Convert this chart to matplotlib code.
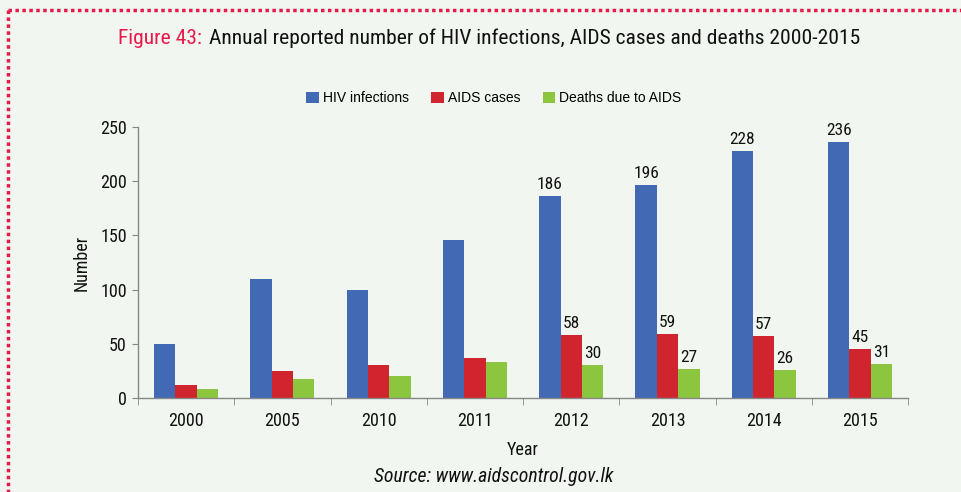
import matplotlib
matplotlib.use("Agg")
import matplotlib.pyplot as plt
from matplotlib.lines import Line2D
from matplotlib import font_manager
from matplotlib.font_manager import FontProperties
import numpy as np

years = ["2000", "2005", "2010", "2011", "2012", "2013", "2014", "2015"]
hiv = [50, 110, 100, 146, 186, 196, 228, 236]
aids = [12, 25, 30, 37, 58, 59, 57, 45]
deaths = [8, 18, 20, 33, 30, 27, 26, 31]
labelled = ["2012", "2013", "2014", "2015"]


def find_narrow(italic=False):
    cands = []
    for f in font_manager.fontManager.ttflist:
        nm = (f.name + " " + f.fname).lower()
        st = f.stretch
        isnarrow = ("condensed" in nm or "narrow" in nm or
                    (isinstance(st, str) and "condensed" in st) or
                    (isinstance(st, int) and st < 500))
        if not isnarrow:
            continue
        if "semi" in nm or "extra" in nm or "ultra" in nm:
            pr = 2
        else:
            pr = 0
        if f.weight not in (400, "normal", "regular", "book"):
            pr += 5
        it = f.style in ("italic", "oblique")
        if it != italic:
            pr += 10
        if "roboto" in nm:
            pr -= 0.5
        elif "liberation" in nm:
            pr -= 0.4
        cands.append((pr, f.fname))
    if cands:
        cands.sort()
        return FontProperties(fname=cands[0][1])
    return FontProperties(family="Liberation Sans", style="italic" if italic else "normal")


NF = find_narrow()
NFI = find_narrow(italic=True)


def fp(base, size):
    p = base.copy()
    p.set_size(size)
    return p


bg = "#f1f6f0"
fig = plt.figure(figsize=(9.62, 4.92), dpi=100, facecolor=bg)
ax = fig.add_axes([0.1435, 0.191, 0.8005, 0.551], facecolor=bg)

x = np.arange(len(years))
w = 0.222
cols = ["#4169b4", "#d0252f", "#8cc63f"]
b1 = ax.bar(x - w, hiv, w, color=cols[0], label="HIV infections")
b2 = ax.bar(x, aids, w, color=cols[1], label="AIDS cases")
b3 = ax.bar(x + w, deaths, w, color=cols[2], label="Deaths due to AIDS")

for bars in (b1, b2, b3):
    for i, r in enumerate(bars):
        if years[i] in labelled:
            ax.annotate(f"{r.get_height():.0f}", (r.get_x() + r.get_width() / 2, r.get_height()),
                        xytext=(0, 3), textcoords="offset points", ha="center", va="bottom",
                        fontproperties=fp(NF, 12.5), color="#111111")

ax.set_xlim(-0.5, len(years) - 0.5)
ax.set_ylim(0, 250)
ax.set_yticks(range(0, 251, 50))
ax.set_xticks(x)
ax.set_xticklabels(years)
ax.set_xticks(np.arange(-0.5, len(years), 1), minor=True)
ax.tick_params(axis="x", which="major", length=0, pad=10)
ax.tick_params(axis="x", which="minor", length=5, color="#888888")
ax.tick_params(axis="y", length=4, color="#888888", pad=4)
for lab in ax.get_xticklabels() + ax.get_yticklabels():
    lab.set_fontproperties(fp(NF, 13))
    lab.set_color("#111111")
for s in ["top", "right"]:
    ax.spines[s].set_visible(False)
for s in ["left", "bottom"]:
    ax.spines[s].set_color("#888888")
    ax.spines[s].set_linewidth(1)

ax.set_ylabel("Number", fontproperties=fp(NF, 13), labelpad=7, color="#111111")
ax.set_xlabel("Year", fontproperties=fp(NF, 13), labelpad=8, color="#111111")

leg = ax.legend(loc="center", bbox_to_anchor=(0.462, 1.105), ncol=3, frameon=False,
                handlelength=0.9, handleheight=0.9, handletextpad=0.3, columnspacing=1.6,
                prop={"family": "Liberation Sans", "size": 10})

# title: fit to reference width (x from 118 to 860 px)
ty = 1 - 38 / 492
size = 18
t1 = fig.text(118 / 962, ty, "Figure 43:", ha="left", va="center",
              fontproperties=fp(NF, size), color="#e8194b")
t2 = fig.text(0.5, ty, "Annual reported number of HIV infections, AIDS cases and deaths 2000-2015",
              ha="left", va="center", fontproperties=fp(NF, size), color="#111111")
fig.canvas.draw()
r = fig.canvas.get_renderer()
gap = 7
wtot = t1.get_window_extent(r).width + gap + t2.get_window_extent(r).width
scale = min(1.25, (860 - 118) / wtot)
size *= scale
t1.set_fontproperties(fp(NF, size))
t2.set_fontproperties(fp(NF, size))
fig.canvas.draw()
bb = t1.get_window_extent(r)
t2.set_x((bb.x1 + gap) / fig.bbox.width)

src = fig.text(494 / 962, 1 - 476 / 492, "Source: www.aidscontrol.gov.lk", ha="center", va="center",
               fontproperties=fp(NFI, 16), color="#111111")
fig.canvas.draw()
sw = src.get_window_extent(r).width
s2 = 16 * min(1.3, (615 - 374) / sw)
src.set_fontproperties(fp(NFI, s2))

fig.add_artist(Line2D([0.008, 1.0], [0.98, 0.98], transform=fig.transFigure,
                      color="#e8194b", lw=2.5, linestyle=(0, (1, 1))))
fig.add_artist(Line2D([0.008, 0.008], [0.98, 0.0], transform=fig.transFigure,
                      color="#e8194b", lw=2.5, linestyle=(0, (1, 1))))

fig.savefig("out.png", dpi=100, facecolor=bg)
